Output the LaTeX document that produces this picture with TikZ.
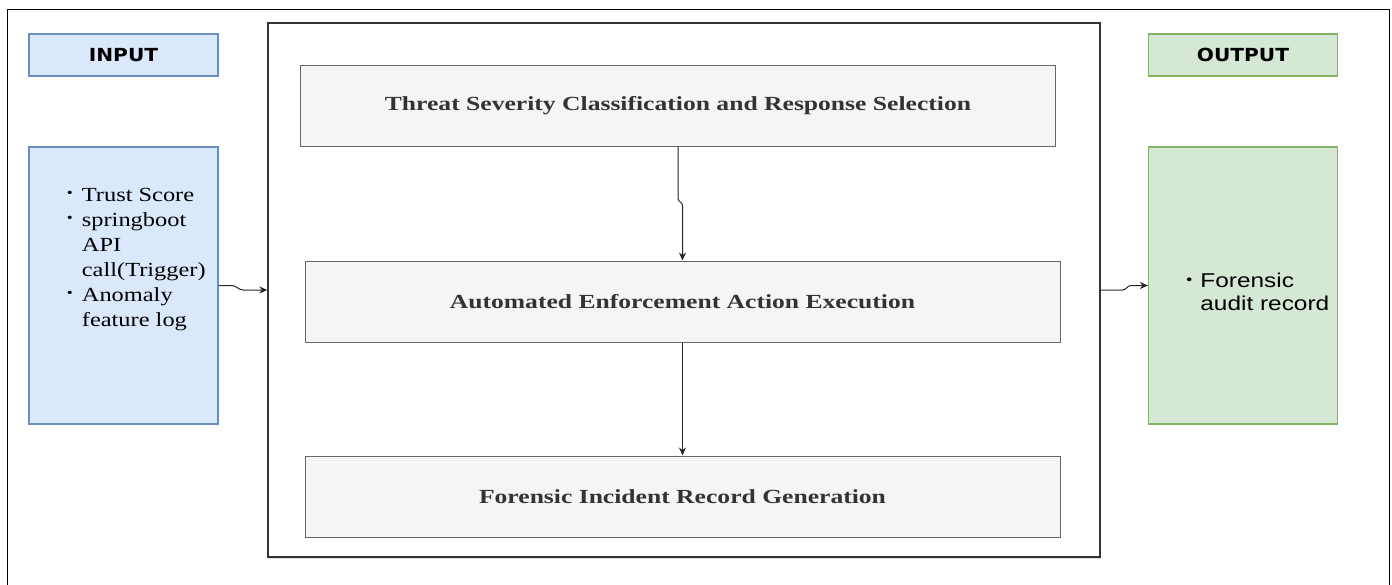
\documentclass[tikz,border=0pt]{standalone}
\usepackage{fontspec}
\setmainfont{Liberation Serif}[FakeStretch=1.22]
\newfontfamily\serifetape{Liberation Serif}[FakeStretch=1.28]
\newfontfamily\sanslist{Liberation Sans}[FakeStretch=1.22]
\newfontfamily\sanstitre{DejaVu Sans}[FakeStretch=1.12]
\usepackage{tikz}
\usetikzlibrary{positioning}
\usetikzlibrary{arrows.meta}
\usetikzlibrary{shadows}

\definecolor{entreefond}{HTML}{DAE8FC}
\definecolor{entreetrait}{HTML}{6C8EBF}
\definecolor{sortiefond}{HTML}{D5E8D4}
\definecolor{sortietrait}{HTML}{82B366}
\definecolor{etapefond}{HTML}{F5F5F5}
\definecolor{etapetrait}{HTML}{666666}

\newcommand{\puce}{\raisebox{0.16em}{\scalebox{0.7}{\textbullet}}}

\begin{document}
\begin{tikzpicture}[x=1pt,y=-1pt]
% définition des paramètres
\tikzstyle cadretotal=[draw=black,line width=0.8pt]
\tikzstyle cadremodule=[draw=black!80,line width=1.4pt,fill=white,drop shadow={shadow xshift=1pt,shadow yshift=-2pt,opacity=0.25}]
\tikzstyle boiteentree=[draw=entreetrait,fill=entreefond,line width=1.2pt]
\tikzstyle boitesortie=[draw=sortietrait,fill=sortiefond,line width=1.2pt]
\tikzstyle titreboite=[font=\sanstitre\bfseries\fontsize{18}{20}\selectfont]
\tikzstyle etape=[draw=etapetrait,fill=etapefond,line width=1pt,minimum width=755,minimum height=81,text=black!80,font=\serifetape\bfseries\fontsize{20}{23}\selectfont]
\tikzstyle fleche=[draw=black!85,line width=1pt,-{Stealth[length=8pt,width=7pt]}]
\newcommand{\largcol}{189}  % largeur des colonnes entrée / sortie
\newcommand{\hauttitre}{42} % hauteur des titres
\newcommand{\hautliste}{277} % hauteur des listes

\useasboundingbox (0,0) rectangle (1392,584);
% le cadre extérieur
\draw [cadretotal] (7,9) rectangle (1389,600);

% la colonne d'entrée
\node [boiteentree,titreboite,minimum width=\largcol,minimum height=\hauttitre] (titreentree) at (123.5,55) {INPUT};
\node [boiteentree,minimum width=\largcol,minimum height=\hautliste] (entree) at (123.5,285.5) {};
\node [anchor=west,font=\fontsize{20}{25}\selectfont] (listeentree) at ([xshift=35pt,yshift=27pt]entree.west)
  {\begin{tabular}{@{}l@{\hspace{9pt}}l@{}}
   \puce & Trust Score\\
   \puce & springboot\\
         & API\\
         & call(Trigger)\\
   \puce & Anomaly\\
         & feature log
   \end{tabular}};

% la colonne de sortie
\node [boitesortie,titreboite,minimum width=\largcol,minimum height=\hauttitre] (titresortie) at (1243,55) {OUTPUT};
\node [boitesortie,minimum width=\largcol,minimum height=\hautliste] (sortie) at (1243,285.5) {};
\node [anchor=west,font=\sanslist\fontsize{20}{23}\selectfont] (listesortie) at ([xshift=35pt,yshift=-9pt]sortie.west)
  {\begin{tabular}{@{}l@{\hspace{8pt}}l@{}}
   \puce & Forensic\\
         & audit record
   \end{tabular}};

% le module central et ses étapes
\node [cadremodule,minimum width=832,minimum height=534] (module) at (684,290) {};
\node [etape] (severite) at (678,105.5) {Threat Severity Classification and Response Selection};
\node [etape] (execution) at (682.5,301.5) {Automated Enforcement Action Execution};
\node [etape] (incident) at (682.5,496.5) {Forensic Incident Record Generation};

% les flèches
\draw [fleche] (entree.east) -- ++(13,0) to[out=0,in=180] ([xshift=-24pt]module.west) -- (module.west);
\draw [fleche] (module.east) -- ++(22,0) to[out=0,in=180] ([xshift=-17pt]sortie.west) -- (sortie.west);
\draw [fleche] (severite.south) -- ++(0,52) to[out=-90,in=90] ([yshift=55pt]execution.north) -- (execution.north);
\draw [fleche] (execution.south) -- (incident.north);
\end{tikzpicture}
\end{document}
